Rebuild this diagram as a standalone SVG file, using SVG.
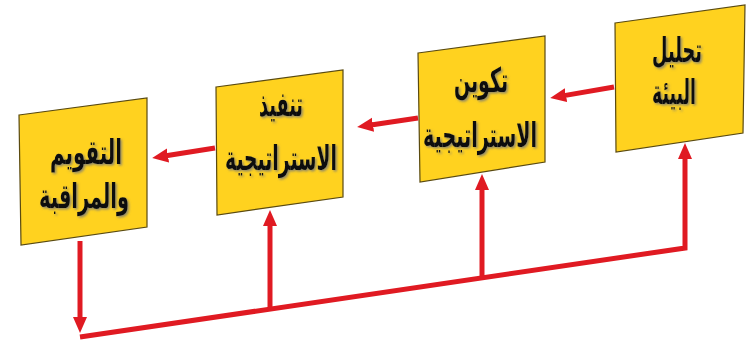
<svg xmlns="http://www.w3.org/2000/svg" width="748" height="347" viewBox="0 0 748 347">
<style>
.box{fill:#ffd21f;stroke:#5a4a10;stroke-width:1.2}
.t{font-family:"DejaVu Sans",sans-serif;font-weight:bold;font-size:34px;fill:#111;text-anchor:middle;filter:url(#sh)}
.c{fill:none;stroke:#e01a22;stroke-width:5}
</style>
<defs>
<filter id="sh" x="-10%" y="-20%" width="130%" height="150%"><feDropShadow dx="1.5" dy="1.5" stdDeviation="0.8" flood-color="#777" flood-opacity="0.8"/></filter>
<marker id="ah" markerUnits="userSpaceOnUse" viewBox="0 0 16 16" markerWidth="16" markerHeight="16" refX="2" refY="8" orient="auto"><path d="M0,1 L16,8 L0,15 z" fill="#e01a22"/></marker>
</defs>
<rect width="748" height="347" fill="#fff"/>
<g id="node-evaluation">
<polygon class="box" points="19,115 147,98 147,227 21,245"/>
<text class="t" x="86" y="164" textLength="72" lengthAdjust="spacingAndGlyphs">التقويم</text>
<text class="t" x="84" y="208" textLength="90" lengthAdjust="spacingAndGlyphs">والمراقبة</text>
</g>
<g id="node-implementation">
<polygon class="box" points="216,87 343,70 343,197 217,215"/>
<text class="t" x="281" y="116" textLength="44" lengthAdjust="spacingAndGlyphs">تنفيذ</text>
<text class="t" x="281" y="170" textLength="112" lengthAdjust="spacingAndGlyphs">الاستراتيجية</text>
</g>
<g id="node-formulation">
<polygon class="box" points="418,53 545,36 545,162 420,182"/>
<text class="t" x="481" y="92" textLength="54" lengthAdjust="spacingAndGlyphs">تكوين</text>
<text class="t" x="480" y="147" textLength="114" lengthAdjust="spacingAndGlyphs">الاستراتيجية</text>
</g>
<g id="node-analysis">
<polygon class="box" points="615,23 745,5 743,133 616,152"/>
<text class="t" x="677" y="62" textLength="50" lengthAdjust="spacingAndGlyphs">تحليل</text>
<text class="t" x="674" y="104" textLength="44" lengthAdjust="spacingAndGlyphs">البيئة</text>
</g>
<g id="connectors">
<path class="c" d="M614,87 L564,95.6" marker-end="url(#ah)"/>
<path class="c" d="M418,118 L371,125" marker-end="url(#ah)"/>
<path class="c" d="M215,148 L166,155.8" marker-end="url(#ah)"/>
<path class="c" d="M80,241 V319" marker-end="url(#ah)"/>
<path class="c" d="M80,337 L685,248 V157" marker-end="url(#ah)"/>
<path class="c" d="M270,309 V224" marker-end="url(#ah)"/>
<path class="c" d="M482,278 V188" marker-end="url(#ah)"/>
</g>
</svg>
